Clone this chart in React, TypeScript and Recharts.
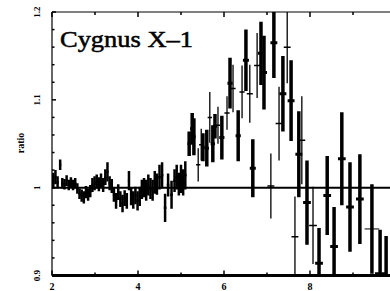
import React from 'react';
import { ScatterChart, Scatter, XAxis, YAxis, ErrorBar, ReferenceLine } from 'recharts';

// [energy keV, ratio, ratio error, energy half-width]
type Bin = [number, number, number, number];

const softBins: Bin[] = [
  [2.03, 1.008, 0.009, 0.025], [2.08, 1.012, 0.008, 0.025], [2.13, 1.006, 0.007, 0.025],
  [2.19, 1.026, 0.006, 0.025], [2.24, 1.005, 0.006, 0.025], [2.29, 1.004, 0.006, 0.025],
  [2.34, 1.008, 0.006, 0.025], [2.39, 1.003, 0.006, 0.025], [2.44, 1.006, 0.006, 0.025],
  [2.49, 1.003, 0.006, 0.025], [2.54, 1.005, 0.006, 0.025], [2.59, 0.999, 0.006, 0.025],
  [2.64, 0.993, 0.006, 0.025], [2.69, 0.991, 0.007, 0.025], [2.74, 0.989, 0.007, 0.025],
  [2.79, 0.995, 0.007, 0.025], [2.84, 0.992, 0.007, 0.025], [2.89, 0.996, 0.007, 0.025],
  [2.94, 1.003, 0.008, 0.025], [2.99, 1.005, 0.008, 0.025], [3.04, 1.007, 0.008, 0.025],
  [3.09, 1.004, 0.008, 0.025], [3.14, 1.008, 0.008, 0.025], [3.19, 1.003, 0.008, 0.025],
  [3.24, 1.012, 0.009, 0.025], [3.29, 1.018, 0.011, 0.025], [3.34, 1.005, 0.008, 0.025],
  [3.39, 1.002, 0.008, 0.025], [3.44, 0.992, 0.008, 0.025], [3.49, 0.985, 0.009, 0.025],
  [3.54, 0.995, 0.009, 0.025], [3.59, 0.987, 0.009, 0.025], [3.64, 0.982, 0.010, 0.025],
  [3.69, 0.988, 0.009, 0.025], [3.74, 0.985, 0.009, 0.025], [3.79, 1.008, 0.011, 0.025],
  [3.84, 0.990, 0.010, 0.025], [3.89, 0.986, 0.010, 0.025], [3.94, 0.991, 0.010, 0.025],
  [3.99, 0.985, 0.011, 0.025], [4.04, 0.990, 0.011, 0.025], [4.09, 0.998, 0.011, 0.025],
  [4.14, 1.000, 0.011, 0.025], [4.19, 0.997, 0.012, 0.025], [4.24, 1.003, 0.012, 0.025],
  [4.29, 0.999, 0.012, 0.025], [4.34, 0.997, 0.012, 0.025], [4.39, 1.006, 0.013, 0.025],
  [4.44, 1.004, 0.012, 0.025], [4.50, 1.012, 0.014, 0.03], [4.56, 1.014, 0.015, 0.03],
  [4.63, 0.977, 0.016, 0.03], [4.70, 1.003, 0.013, 0.03], [4.78, 0.992, 0.016, 0.03],
  [4.85, 1.008, 0.013, 0.03], [4.90, 1.012, 0.014, 0.03], [4.95, 1.004, 0.013, 0.03],
  [5.00, 1.010, 0.016, 0.03], [5.05, 1.006, 0.015, 0.03], [5.10, 1.014, 0.016, 0.03],
];

const thickBins: Bin[] = [
  [5.19, 1.050, 0.014, 0.04], [5.26, 1.067, 0.018, 0.05], [5.30, 1.058, 0.021, 0.04],
  [5.51, 1.046, 0.016, 0.04], [5.60, 1.045, 0.021, 0.05], [5.74, 1.050, 0.021, 0.05],
  [5.79, 1.070, 0.014, 0.05], [5.95, 1.057, 0.025, 0.06], [6.14, 1.119, 0.029, 0.06],
  [6.33, 1.059, 0.029, 0.06], [6.51, 1.145, 0.035, 0.07], [6.67, 1.022, 0.033, 0.07],
  [6.86, 1.153, 0.036, 0.07], [6.93, 1.131, 0.042, 0.07], [7.16, 1.165, 0.040, 0.08],
  [7.37, 1.107, 0.043, 0.08], [7.56, 1.099, 0.046, 0.08], [7.74, 1.038, 0.049, 0.08],
  [7.93, 0.983, 0.048, 0.09], [8.21, 0.914, 0.040, 0.09], [8.40, 0.991, 0.045, 0.09],
  [8.56, 0.933, 0.045, 0.09], [8.74, 1.033, 0.053, 0.09], [8.93, 0.978, 0.051, 0.09],
  [9.16, 0.987, 0.051, 0.09], [9.63, 0.902, 0.050, 0.12], [9.77, 0.890, 0.055, 0.10],
];

const thinBins: Bin[] = [
  [5.40, 1.026, 0.019, 0.05], [5.47, 1.049, 0.018, 0.05], [5.67, 1.080, 0.029, 0.05],
  [5.86, 1.071, 0.021, 0.05], [6.07, 1.085, 0.019, 0.06], [6.21, 1.113, 0.027, 0.06],
  [6.42, 1.109, 0.030, 0.06], [6.60, 1.107, 0.033, 0.07], [6.77, 1.139, 0.037, 0.07],
  [7.09, 1.002, 0.037, 0.08], [7.28, 1.073, 0.042, 0.08], [7.47, 1.160, 0.041, 0.08],
  [7.65, 0.944, 0.046, 0.08], [7.81, 1.054, 0.050, 0.08], [8.07, 0.957, 0.044, 0.09],
];

// wide bin: thick ratio bar but thin energy bar
const wideBins: Bin[] = [[9.44, 0.953, 0.051, 0.17]];

const xTicks = [2, 3, 4, 5, 6, 7, 8, 9, 10];
const xLabels = [2, 4, 6, 8];
const yTicks = [0.9, 0.92, 0.94, 0.96, 0.98, 1, 1.02, 1.04, 1.06, 1.08, 1.1, 1.12, 1.14, 1.16, 1.18, 1.2];
const yLabels = ['0.9', '1', '1.1', '1.2'];

const series = [
  { key: 'soft', bins: softBins, vWidth: 2.5, hWidth: 2.5 },
  { key: 'thick', bins: thickBins, vWidth: 3.5, hWidth: 3 },
  { key: 'thin', bins: thinBins, vWidth: 1.3, hWidth: 1.5 },
  { key: 'wide', bins: wideBins, vWidth: 3.5, hWidth: 1 },
];

const toPoints = (bins: Bin[]) => bins.map(([e, r, dr, de]) => ({ e, r, dr, de }));

const font = "'Liberation Serif', 'Times New Roman', serif";
const tickText = (v: number) => String(Math.round(v * 100) / 100);

const BottomTick = ({ x, y, payload }: any) => {
  const major = payload.value % 2 === 0;
  return (
    <g>
      <line x1={x} x2={x} y1={y} y2={y - (major ? 5 : 3)} stroke="#000" strokeWidth={1.5} />
      {xLabels.includes(payload.value) && (
        <text x={x} y={y + 14} textAnchor="middle" fontSize={10} fontWeight="bold" fontFamily={font} fill="#000">
          {payload.value}
        </text>
      )}
    </g>
  );
};

const TopTick = ({ x, y, payload }: any) => {
  const major = payload.value % 2 === 0;
  return <line x1={x} x2={x} y1={y} y2={y + (major ? 5 : 3)} stroke="#000" strokeWidth={1.5} />;
};

const LeftTick = ({ x, y, payload }: any) => {
  const label = tickText(payload.value);
  const major = yLabels.includes(label);
  return (
    <g>
      <line x1={x} x2={x + (major ? 4 : 2.5)} y1={y} y2={y} stroke="#000" strokeWidth={1.5} />
      {major && (
        <text
          x={x - 15}
          y={y}
          transform={`rotate(-90 ${x - 15} ${y})`}
          textAnchor="middle"
          dominantBaseline="central"
          fontSize={9}
          fontWeight="bold"
          fontFamily={font}
          fill="#000"
        >
          {label}
        </text>
      )}
    </g>
  );
};

export default function App() {
  return (
    <div style={{ position: 'absolute', left: 0, top: 0, width: 390, height: 291, overflow: 'hidden', background: '#fff' }}>
      <style>{'[class*="recharts-errorBar"], .recharts-scatter, .recharts-scatter-symbol { clip-path: url(#plot-area); }'}</style>
      <svg width={0} height={0} style={{ position: 'absolute' }}>
        <defs>
          <clipPath id="plot-area" clipPathUnits="userSpaceOnUse">
            <rect x={52} y={12} width={344} height={263.5} />
          </clipPath>
        </defs>
      </svg>
      <ScatterChart width={400} height={291} margin={{ top: 0, right: 4, bottom: 0, left: 0 }}>
        <XAxis
          xAxisId="bottom"
          orientation="bottom"
          type="number"
          dataKey="e"
          domain={[2, 10]}
          ticks={xTicks}
          interval={0}
          allowDataOverflow
          height={15.5}
          tickSize={0}
          tickMargin={0}
          tick={<BottomTick />}
          axisLine={{ stroke: '#000', strokeWidth: 3 }}
        />
        <XAxis
          xAxisId="top"
          orientation="top"
          type="number"
          dataKey="e"
          domain={[2, 10]}
          ticks={xTicks}
          interval={0}
          allowDataOverflow
          height={12}
          tickSize={0}
          tickMargin={0}
          tick={<TopTick />}
          axisLine={{ stroke: '#000', strokeWidth: 1 }}
        />
        <YAxis
          type="number"
          dataKey="r"
          domain={[0.9, 1.2]}
          ticks={yTicks}
          interval={0}
          allowDataOverflow
          width={52}
          tickSize={0}
          tickMargin={0}
          tick={<LeftTick />}
          axisLine={{ stroke: '#000', strokeWidth: 1.2 }}
        />
        <ReferenceLine xAxisId="bottom" y={1} stroke="#000" strokeWidth={2} />
        {series.map((s) => (
          <Scatter
            key={s.key}
            xAxisId="bottom"
            data={toPoints(s.bins)}
            dataKey="r"
            fill="#000"
            shape={() => <g />}
            isAnimationActive={false}
          >
            <ErrorBar dataKey="dr" direction="y" width={0} stroke="#000" strokeWidth={s.vWidth} isAnimationActive={false} />
            <ErrorBar dataKey="de" direction="x" width={0} stroke="#000" strokeWidth={s.hWidth} isAnimationActive={false} />
          </Scatter>
        ))}
      </ScatterChart>
      <svg width={390} height={291} style={{ position: 'absolute', left: 0, top: 0, pointerEvents: 'none' }}>
        <text
          x={60}
          y={47}
          fontSize={23}
          fontFamily={font}
          textLength={133}
          lengthAdjust="spacingAndGlyphs"
          fill="#000"
          stroke="#000"
          strokeWidth={0.5}
        >
          Cygnus X–1
        </text>
        <text
          x={20}
          y={143}
          transform="rotate(-90 20 143)"
          textAnchor="middle"
          dominantBaseline="central"
          fontSize={10}
          fontWeight="bold"
          fontFamily={font}
          fill="#000"
        >
          ratio
        </text>
      </svg>
    </div>
  );
}
